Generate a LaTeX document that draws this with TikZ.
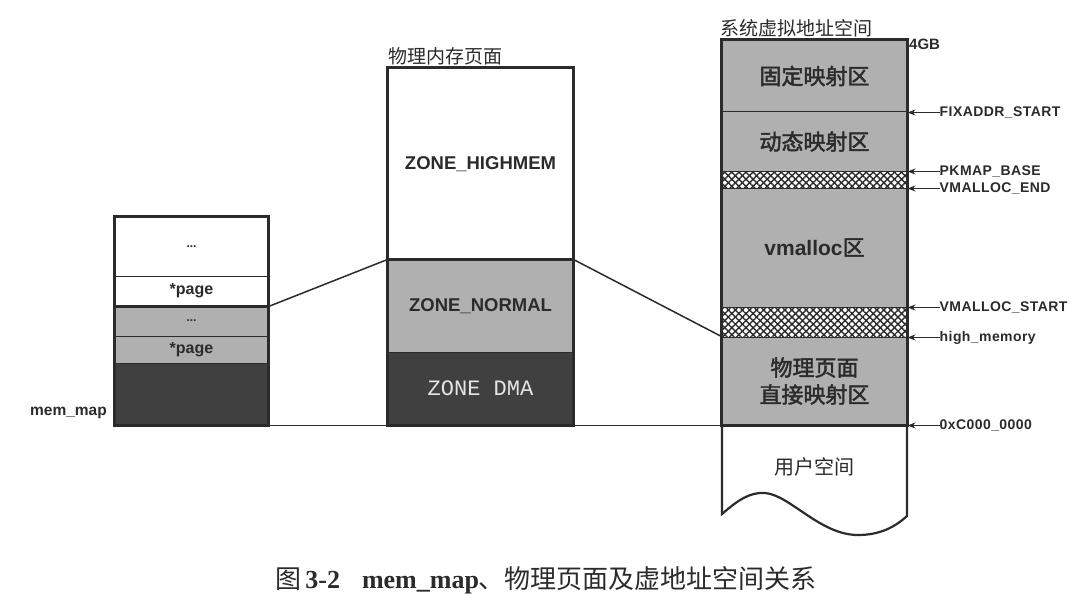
\documentclass[tikz,border=0pt]{standalone}
\usepackage{fontspec}
\setmainfont{Liberation Sans}
\setmonofont{Liberation Mono}
\newfontfamily\cjk{Noto Sans CJK SC}[AutoFakeBold=2]
\newfontfamily\addrfont{Liberation Sans}[LetterSpace=3]
\newfontfamily\capfont{Liberation Serif}
\usetikzlibrary{positioning,arrows.meta,patterns.meta}
\definecolor{zonegray}{gray}{0.69}
\definecolor{zonedark}{gray}{0.25}
\definecolor{ink}{gray}{0.17}

\begin{document}
\begin{tikzpicture}
  [x=1pt,y=-1pt,
   every node/.style={inner sep=0pt,text=ink},
   cell/.style={draw=ink,line width=1pt,minimum width=#1},
   frame/.style={draw=ink,line width=2.2pt},
   hatched/.style={fill=white,
     postaction={pattern={Lines[angle=45,distance=5pt,line width=1.4pt]},pattern color=ink},
     postaction={pattern={Lines[angle=-45,distance=5pt,line width=1.4pt]},pattern color=ink}},
   zonetxt/.style={font=\bfseries\fontsize{18.5}{20}\selectfont},
   pagetxt/.style={font=\bfseries\fontsize{16}{18}\selectfont},
   areatxt/.style={font=\cjk\bfseries\fontsize{22}{27}\selectfont,align=center},
   titletxt/.style={font=\cjk\fontsize{19}{22}\selectfont,anchor=south west},
   addr/.style={font=\addrfont\bfseries\fontsize{14}{16}\selectfont},
   tip/.style={-{Stealth[length=8pt,width=6pt]},line width=1.1pt,draw=ink},
   link/.style={line width=1.5pt,draw=ink}]
  \path[fill=white,use as bounding box] (0,0) rectangle (1083,607);

  % mem_map array
  \node[cell=153,minimum height=59,fill=white] (ldots) at (191.5,246.5) {\bfseries\fontsize{12}{12}\selectfont ...};
  \node[cell=153,minimum height=30,fill=white,pagetxt] (lpage) at (191.5,291) {*page};
  \node[cell=153,minimum height=30,fill=zonegray] (gdots) at (191.5,321) {\bfseries\fontsize{12}{12}\selectfont ...};
  \node[cell=153,minimum height=27,fill=zonegray,pagetxt] (gpage) at (191.5,349.5) {*page};
  \node[cell=153,minimum height=62,fill=zonedark] (lbase) at (191.5,394) {};
  \draw[frame] (ldots.north west) rectangle (lbase.south east);
  \draw[frame] (lpage.south west) -- (lpage.south east);
  \node[font=\bfseries\fontsize{15.5}{17}\selectfont,anchor=east] (mlbl) at (107,413) {mem\_map};

  % physical zones
  \node[titletxt] (ptitle) at (388,65) {物理内存页面};
  \node[cell=185,minimum height=192,fill=white,zonetxt] (high) at (480.5,164) {ZONE\_HIGHMEM};
  \node[cell=185,minimum height=92,fill=zonegray,zonetxt] (normal) at (480.5,306) {ZONE\_NORMAL};
  \node[cell=185,minimum height=73,fill=zonedark,font=\ttfamily\fontsize{22}{24}\selectfont,text=gray!20] (dma) at (480.5,388.5) {ZONE DMA};
  \draw[frame] (high.north west) rectangle (dma.south east);
  \draw[frame] (normal.north west) -- (normal.north east);

  % virtual address space
  \node[titletxt] (vtitle) at (720,37) {系统虚拟地址空间};
  \draw[frame,fill=white] (722,425) -- ++(0,89)
    .. controls (738,500) and (750,492) .. (765,493)
    .. controls (790,495) and (820,535) .. (858,535)
    .. controls (880,535) and (895,527) .. (907,516) -- (907,425);
  \node[font=\cjk\fontsize{20}{24}\selectfont] (user) at (814,467) {用户空间};
  \node[cell=185,minimum height=72,fill=zonegray,areatxt] (fix) at (814.5,76) {固定映射区};
  \node[cell=185,minimum height=59,fill=zonegray,areatxt] (dyn) at (814.5,141.5) {动态映射区};
  \node[cell=185,minimum height=17,hatched] (hatchtop) at (814.5,179.5) {};
  \node[cell=185,minimum height=119,fill=zonegray,areatxt] (vm) at (814.5,247.5) {{\rmfamily\fontsize{21}{24}\selectfont vmalloc}区};
  \node[cell=185,minimum height=30,hatched] (hatchlow) at (814.5,322) {};
  \node[cell=185,minimum height=88,fill=zonegray,areatxt] (direct) at (814.5,381) {物理页面\\直接映射区};
  \draw[frame] (fix.north west) rectangle (direct.south east);
  \node[font=\bfseries\fontsize{15}{17}\selectfont,anchor=west] (top) at (909,44) {4GB};

  \foreach \cell/\lbl/\txt in {fix/afix/FIXADDR\_START, dyn/apkmap/PKMAP\_BASE,
      hatchtop/avmend/VMALLOC\_END, vm/avmstart/VMALLOC\_START,
      hatchlow/ahigh/high\_memory, direct/aoxc/0xC000\_0000}
  {
    \node[addr,right=32pt of \cell.south east] (\lbl) {\txt};
    \draw[tip] (\lbl) -- (\cell.south east);
  }

  % mappings
  \draw[link] (lpage.south east) -- (normal.north west);
  \draw[link] (normal.north east) -- (direct.north west);
  \draw[link] (lbase.south east) -- (direct.south west);

  \node[font=\capfont\fontsize{26}{29}\selectfont] (cap) at (546,580)
    {{\cjk 图}\,\textbf{3-2}\hspace{22pt}\textbf{mem\_map}{\cjk 、物理页面及虚地址空间关系}};
\end{tikzpicture}
\end{document}
